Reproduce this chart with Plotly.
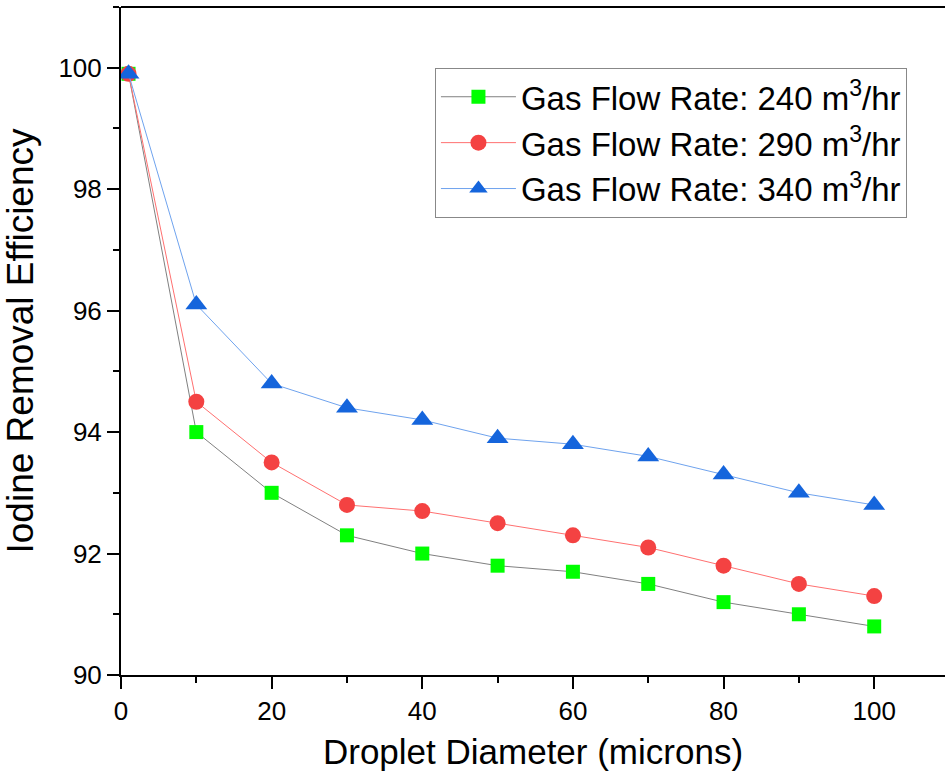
import plotly.graph_objects as go

diameter = [1, 10, 20, 30, 40, 50, 60, 70, 80, 90, 100]
eff_240 = [99.9, 94.0, 93.0, 92.3, 92.0, 91.8, 91.7, 91.5, 91.2, 91.0, 90.8]
eff_290 = [99.9, 94.5, 93.5, 92.8, 92.7, 92.5, 92.3, 92.1, 91.8, 91.5, 91.3]
eff_340 = [99.9, 96.1, 94.8, 94.4, 94.2, 93.9, 93.8, 93.6, 93.3, 93.0, 92.8]
names = ["Gas Flow Rate: 240 m<sup>3</sup>/hr",
         "Gas Flow Rate: 290 m<sup>3</sup>/hr",
         "Gas Flow Rate: 340 m<sup>3</sup>/hr"]

fig = go.Figure()
fig.add_trace(go.Scatter(x=diameter, y=eff_240, mode="lines+markers", name=names[0],
                         line=dict(color="#808080", width=1),
                         marker=dict(symbol="square", size=14, color="#00FF00")))
fig.add_trace(go.Scatter(x=diameter, y=eff_290, mode="lines+markers", name=names[1],
                         line=dict(color="#FF7070", width=1),
                         marker=dict(symbol="circle", size=16, color="#F44242")))
fig.add_trace(go.Scatter(x=diameter, y=eff_340, mode="lines+markers", name=names[2],
                         line=dict(color="#6FA3EE", width=1),
                         marker=dict(symbol="triangle-up", size=19, color="#1565DC")))

font_family = "Liberation Sans, Arial, sans-serif"
fig.update_layout(
    width=945, height=783,
    margin=dict(l=121, r=0, t=7, b=108),
    plot_bgcolor="white", paper_bgcolor="white",
    font=dict(family=font_family, color="black"),
    showlegend=True,
    legend=dict(x=0.381, y=0.909, xanchor="left", yanchor="top",
                bordercolor="#888888", borderwidth=1, bgcolor="white",
                font=dict(size=33, family=font_family), tracegroupgap=0,
                itemwidth=75),
    xaxis=dict(range=[0, 109.4], tickmode="array", tickvals=[0, 20, 40, 60, 80, 100],
               ticks="outside", ticklen=12, tickwidth=2, tickcolor="black",
               showline=True, linecolor="black", linewidth=2, mirror=False,
               showgrid=False, zeroline=False,
               tickfont=dict(size=26),
               minor=dict(ticks="outside", ticklen=6, tickwidth=2, tickcolor="black", dtick=10, tick0=0, showgrid=False),
               title=dict(text="Droplet Diameter (microns)", font=dict(size=35), standoff=14)),
    yaxis=dict(range=[90, 101], tickmode="array", tickvals=[90, 92, 94, 96, 98, 100],
               ticks="outside", ticklen=12, tickwidth=2, tickcolor="black",
               showline=True, linecolor="black", linewidth=2, mirror=False,
               showgrid=False, zeroline=False,
               tickfont=dict(size=26),
               minor=dict(ticks="outside", ticklen=6, tickwidth=2, tickcolor="black", dtick=1, tick0=90, showgrid=False),
               title=dict(text="Iodine Removal Efficiency", font=dict(size=37), standoff=14)),
)
# top frame line
fig.add_shape(type="line", xref="paper", yref="paper", x0=0, x1=1, y0=1, y1=1,
              line=dict(color="black", width=2))
fig.write_html("out.html")
